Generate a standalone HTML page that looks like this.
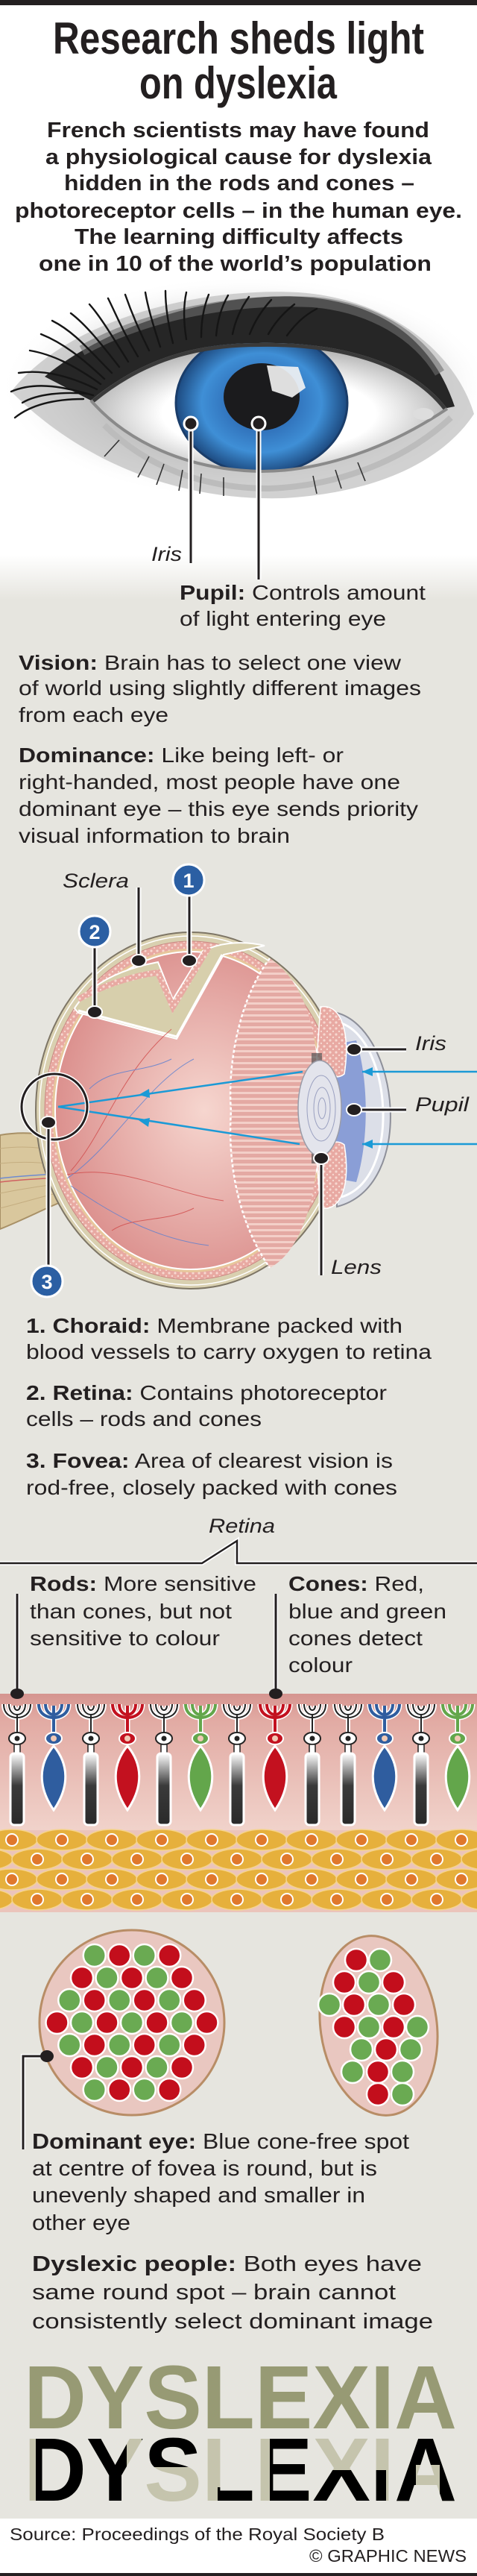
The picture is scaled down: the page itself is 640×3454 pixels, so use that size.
<!DOCTYPE html>
<html><head><meta charset="utf-8">
<style>
html,body{margin:0;padding:0;background:#fff;}
svg{display:block;}
text{font-family:"Liberation Sans",sans-serif;fill:#231f20;}
.b{font-weight:bold;}
.i{font-style:italic;}
</style></head><body>
<svg width="640" height="3454" viewBox="0 0 640 3454" xmlns="http://www.w3.org/2000/svg">
<defs>
<linearGradient id="bgfade" x1="0" y1="0" x2="0" y2="1">
<stop offset="0" stop-color="#ffffff"/><stop offset="1" stop-color="#e6e5df"/></linearGradient>
<radialGradient id="irisG" cx="0.5" cy="0.5" r="0.5">
<stop offset="0.35" stop-color="#2f6fb8"/><stop offset="0.7" stop-color="#3f8fd6"/><stop offset="1" stop-color="#1d4a80"/></radialGradient>
<radialGradient id="scleraG" cx="0.5" cy="0.55" r="0.6">
<stop offset="0.5" stop-color="#ffffff"/><stop offset="1" stop-color="#9a9a9a"/></radialGradient>
<radialGradient id="shadowG" cx="0.5" cy="0.5" r="0.5">
<stop offset="0.6" stop-color="#9a9a9a"/><stop offset="1" stop-color="#ffffff" stop-opacity="0"/></radialGradient>
<radialGradient id="vitG" cx="0.55" cy="0.5" r="0.6">
<stop offset="0" stop-color="#f6d6cf"/><stop offset="1" stop-color="#d98a88"/></radialGradient>
<linearGradient id="retG" x1="0" y1="0" x2="0" y2="1">
<stop offset="0" stop-color="#d59590"/><stop offset="0.2" stop-color="#e2aba4"/><stop offset="1" stop-color="#f1d3cb"/></linearGradient>
<linearGradient id="rodG" x1="0" y1="0" x2="0" y2="1">
<stop offset="0" stop-color="#ffffff"/><stop offset="0.45" stop-color="#3a3a3a"/><stop offset="1" stop-color="#2a2a2a"/></linearGradient>
<pattern id="dots" width="8" height="8" patternUnits="userSpaceOnUse">
<rect width="8" height="8" fill="#e8a9a2"/><circle cx="3" cy="3" r="1.6" fill="#f7d8d0"/><circle cx="7" cy="7" r="1.2" fill="#f7d8d0"/></pattern>
<pattern id="ribs" width="8" height="8" patternUnits="userSpaceOnUse">
<rect width="8" height="8" fill="#e4a9a3"/><rect y="0" width="8" height="3" fill="#f3cfc8"/></pattern>
<g id="rod">
<path d="M-18,0 C-18,14 -8,18 0,18 C8,18 18,14 18,0 M-11,0 C-11,10 -5,14 0,14 C5,14 11,10 11,0 M-4,2 C-4,10 4,10 4,2 M0,14 L0,40" fill="none" stroke="#fff" stroke-width="6"/>
<path d="M-18,0 C-18,14 -8,18 0,18 C8,18 18,14 18,0 M-11,0 C-11,10 -5,14 0,14 C5,14 11,10 11,0 M-4,2 C-4,10 4,10 4,2 M0,14 L0,40" fill="none" stroke="#222" stroke-width="2"/>
<ellipse cx="0" cy="46" rx="11" ry="8" fill="#fff" stroke="#222" stroke-width="2"/>
<circle cx="0" cy="46" r="3.5" fill="#222"/>
<rect x="-4" y="54" width="8" height="14" fill="#fff" stroke="#222" stroke-width="1.5"/>
<rect x="-9" y="66" width="18" height="96" rx="5" fill="url(#rodG)" stroke="#fff" stroke-width="3"/>
</g>
<g id="cone">
<path d="M-20,0 C-20,14 -8,18 0,18 C8,18 20,14 20,0 M-11,0 C-11,10 -5,14 0,14 C5,14 11,10 11,0 M0,2 L0,40" fill="none" stroke="#fff" stroke-width="7"/>
<path d="M-20,0 C-20,14 -8,18 0,18 C8,18 20,14 20,0 M-11,0 C-11,10 -5,14 0,14 C5,14 11,10 11,0 M0,2 L0,40" fill="none" stroke="currentColor" stroke-width="4"/>
<ellipse cx="0" cy="46" rx="11" ry="8" fill="currentColor" stroke="#fff" stroke-width="2"/>
<circle cx="0" cy="46" r="4" fill="#f1c9b5"/>
<path d="M0,56 C20,80 22,110 0,142 C-22,110 -20,80 0,56 Z" fill="currentColor" stroke="#fff" stroke-width="3"/>
</g>
<g id="ycell"><ellipse rx="34" ry="14" fill="#e6b03c" stroke="#f5d48c" stroke-width="1.5"/><circle r="8" fill="#e0782c" stroke="#fff" stroke-width="2"/></g>
<clipPath id="scleraClip"><path d="M122,537 C200,472 280,460 347,460 C450,458 550,482 600,548 C520,602 430,632 350,632 C250,630 170,592 122,537 Z"/></clipPath>
<clipPath id="blk1"><rect x="48" y="3260" width="122" height="100"/><rect x="190" y="3260" width="75" height="48"/><rect x="292" y="3335" width="48" height="25"/><rect x="362" y="3260" width="52" height="100"/><rect x="418" y="3312" width="100" height="48"/><rect x="528" y="3260" width="90" height="45"/><rect x="528" y="3305" width="30" height="55"/><rect x="590" y="3305" width="30" height="55"/></clipPath>
</defs>

<!-- backgrounds -->
<rect width="640" height="3454" fill="#e6e5df"/>
<rect width="640" height="745" fill="#fff"/>
<rect y="744" width="640" height="60" fill="url(#bgfade)"/>
<rect width="640" height="7" fill="#231f20"/>

<!-- title -->
<text class="b" x="71" y="72" font-size="60" textLength="498" lengthAdjust="spacingAndGlyphs">Research sheds light</text>
<text class="b" x="187" y="132" font-size="60" textLength="265" lengthAdjust="spacingAndGlyphs">on dyslexia</text>
<g class="b" font-size="29">
<text class="b" x="63" y="184" textLength="513" lengthAdjust="spacingAndGlyphs">French scientists may have found</text>
<text class="b" x="61" y="220" textLength="518" lengthAdjust="spacingAndGlyphs">a physiological cause for dyslexia</text>
<text class="b" x="86" y="255" textLength="470" lengthAdjust="spacingAndGlyphs">hidden in the rods and cones –</text>
<text class="b" x="20" y="292" textLength="600" lengthAdjust="spacingAndGlyphs">photoreceptor cells – in the human eye.</text>
<text class="b" x="100" y="327" textLength="441" lengthAdjust="spacingAndGlyphs">The learning difficulty affects</text>
<text class="b" x="52" y="363" textLength="527" lengthAdjust="spacingAndGlyphs">one in 10 of the world’s population</text>
</g>

<!-- eye photo -->
<ellipse cx="330" cy="520" rx="330" ry="150" fill="url(#shadowG)" opacity="0.55"/>
<path d="M15,525 C90,430 260,385 400,392 C520,400 610,470 636,555 C600,610 520,660 380,668 C240,672 110,620 15,525 Z" fill="#bdbdbd" opacity="0.7"/>
<path d="M60,505 C150,430 300,392 405,398 C510,405 580,455 610,545 L595,548 C545,485 455,458 347,460 C240,462 165,500 122,537 Z" fill="#262626"/>
<path d="M110,470 C200,420 320,400 420,405 C500,412 560,450 590,500" fill="none" stroke="#6e6e6e" stroke-width="14" opacity="0.6"/>
<g stroke="#151515" stroke-width="2.4" fill="none" stroke-linecap="round">
<path d="M125,530 C90,520 50,510 15,525"/><path d="M130,522 C95,505 60,495 25,500"/><path d="M135,515 C100,490 70,475 40,470"/>
<path d="M140,508 C110,480 85,460 55,448"/><path d="M150,500 C120,470 100,445 70,430"/><path d="M160,492 C135,460 115,435 95,420"/>
<path d="M172,485 C150,450 135,425 120,408"/><path d="M185,478 C165,445 155,420 145,400"/><path d="M200,470 C185,440 175,415 168,395"/>
<path d="M215,465 C205,435 198,410 195,392"/><path d="M232,460 C225,432 222,410 222,390"/><path d="M250,455 C246,430 246,410 250,392"/>
<path d="M270,452 C270,428 274,410 280,395"/><path d="M290,450 C292,428 298,410 306,396"/><path d="M312,448 C316,428 324,412 334,398"/>
<path d="M335,448 C342,430 352,415 364,402"/><path d="M360,448 C370,430 382,418 395,408"/><path d="M385,450 C398,432 410,422 425,414"/>
<path d="M112,535 C80,535 45,540 20,560"/><path d="M118,528 C85,525 50,528 30,540"/>
</g>
<path d="M122,537 C200,472 280,460 347,460 C450,458 550,482 600,548 C520,602 430,632 350,632 C250,630 170,592 122,537 Z" fill="url(#scleraG)"/>
<g clip-path="url(#scleraClip)">
<ellipse cx="351" cy="540" rx="115" ry="95" fill="url(#irisG)"/>
<ellipse cx="351" cy="540" rx="115" ry="95" fill="none" stroke="#1a3d6a" stroke-width="3"/>
<ellipse cx="351" cy="532" rx="51" ry="45" fill="#1b1b1d"/>
<path d="M358,490 L400,492 L410,520 L392,533 L365,524 Z" fill="#f4f4f4" opacity="0.9"/>
<path d="M122,537 C200,472 280,460 347,460 C450,458 550,482 600,548" fill="none" stroke="#3a3a3a" stroke-width="10"/>
</g>
<path d="M122,537 C170,592 250,630 350,632 C430,632 520,602 600,548" fill="none" stroke="#8a8a8a" stroke-width="4"/>
<path d="M140,570 C200,630 280,655 360,655 C450,652 540,620 605,560" fill="none" stroke="#bcbcbc" stroke-width="8"/>
<g stroke="#333" stroke-width="1.6" fill="none">
<path d="M200,612 L185,640"/><path d="M220,622 L210,650"/><path d="M245,630 L240,658"/><path d="M270,635 L268,662"/><path d="M300,640 L300,665"/><path d="M420,638 L425,662"/><path d="M450,630 L458,655"/><path d="M480,620 L490,645"/><path d="M160,590 L140,612"/>
</g>
<ellipse cx="568" cy="555" rx="14" ry="8" fill="#ddd"/>
<!-- eye pointers -->
<g>
<line x1="256" y1="568" x2="256" y2="755" stroke="#fff" stroke-width="7"/>
<line x1="256" y1="568" x2="256" y2="755" stroke="#231f20" stroke-width="3"/>
<circle cx="256" cy="568" r="9" fill="#231f20" stroke="#fff" stroke-width="3"/>
<line x1="347" y1="568" x2="347" y2="777" stroke="#fff" stroke-width="7"/>
<line x1="347" y1="568" x2="347" y2="777" stroke="#231f20" stroke-width="3"/>
<circle cx="347" cy="568" r="9" fill="#231f20" stroke="#fff" stroke-width="3"/>
</g>
<text class="i" x="203" y="752" font-size="27" textLength="41" lengthAdjust="spacingAndGlyphs">Iris</text>
<text x="241" y="804" font-size="28" textLength="330" lengthAdjust="spacingAndGlyphs"><tspan class="b" font-weight="bold">Pupil:</tspan> Controls amount</text>
<text x="241" y="839" font-size="28" textLength="277" lengthAdjust="spacingAndGlyphs">of light entering eye</text>

<!-- vision / dominance -->
<g font-size="28">
<text x="25" y="898" textLength="513" lengthAdjust="spacingAndGlyphs"><tspan font-weight="bold">Vision:</tspan> Brain has to select one view</text>
<text x="25" y="932" textLength="540" lengthAdjust="spacingAndGlyphs">of world using slightly different images</text>
<text x="25" y="968" textLength="201" lengthAdjust="spacingAndGlyphs">from each eye</text>
<text x="25" y="1022" textLength="436" lengthAdjust="spacingAndGlyphs"><tspan font-weight="bold">Dominance:</tspan> Like being left- or</text>
<text x="25" y="1058" textLength="512" lengthAdjust="spacingAndGlyphs">right-handed, most people have one</text>
<text x="25" y="1094" textLength="536" lengthAdjust="spacingAndGlyphs">dominant eye – this eye sends priority</text>
<text x="25" y="1130" textLength="364" lengthAdjust="spacingAndGlyphs">visual information to brain</text>
</g>

<!-- eye cross-section -->
<path d="M0,1522 C40,1515 75,1522 100,1535 L100,1605 C70,1615 40,1632 0,1648 Z" fill="#d9c79d" stroke="#a89066" stroke-width="2"/>
<g stroke="#c4ad80" stroke-width="1" fill="none"><path d="M0,1540 C40,1535 70,1540 100,1550"/><path d="M0,1560 C40,1556 70,1560 100,1565"/><path d="M0,1600 C40,1592 70,1588 100,1585"/><path d="M0,1620 C40,1610 70,1600 100,1595"/></g>
<path d="M0,1580 C40,1575 70,1575 100,1572" stroke="#6f8bd0" stroke-width="1.5" fill="none"/>
<path d="M0,1585 C40,1580 70,1580 100,1578" stroke="#d06060" stroke-width="1.5" fill="none"/>
<ellipse cx="256" cy="1489" rx="208" ry="239" fill="#d9d0b0" stroke="#7d7565" stroke-width="2"/>
<ellipse cx="256" cy="1489" rx="203" ry="234" fill="none" stroke="#fff" stroke-width="1.5"/>
<ellipse cx="256" cy="1489" rx="196" ry="227" fill="url(#dots)" stroke="#c98a84" stroke-width="1"/>
<ellipse cx="256" cy="1489" rx="186" ry="217" fill="#e7c79c"/>
<ellipse cx="256" cy="1489" rx="182" ry="213" fill="url(#vitG)" stroke="#fff" stroke-width="2"/>
<!-- cutaway -->
<path d="M100,1352 C120,1320 160,1300 212,1290 L232,1340 L272,1275 C300,1262 330,1262 355,1268 L300,1280 L237,1393 L105,1358 Z" fill="#d7cfac" stroke="#fff" stroke-width="2"/>
<path d="M105,1340 C140,1320 180,1308 212,1304 L232,1350 L280,1270" fill="none" stroke="url(#dots)" stroke-width="8"/>
<path d="M105,1355 L237,1390 L298,1280" fill="none" stroke="#fff" stroke-width="3"/>
<!-- vessels -->
<g fill="none" stroke-width="1" opacity="0.8">
<path d="M90,1580 C150,1540 200,1450 260,1420" stroke="#5b7fd0"/><path d="M90,1575 C160,1560 230,1600 300,1610" stroke="#d04a4a"/>
<path d="M95,1590 C140,1620 200,1660 280,1670" stroke="#5b7fd0"/><path d="M95,1570 C140,1520 160,1440 230,1380" stroke="#d04a4a"/>
<path d="M120,1460 C150,1430 190,1440 230,1420" stroke="#5b7fd0"/><path d="M150,1650 C180,1630 220,1640 260,1620" stroke="#d04a4a"/>
</g>
<!-- ciliary fan -->
<path d="M362,1285 C320,1340 305,1430 310,1490 C305,1560 320,1640 362,1700 C400,1680 420,1620 425,1560 L425,1420 C420,1360 400,1310 362,1285 Z" fill="url(#ribs)"/>
<path d="M362,1285 C320,1340 305,1430 310,1490 C305,1560 320,1640 362,1700" fill="none" stroke="#fff" stroke-width="2.5" stroke-dasharray="4 3"/>
<!-- iris/cornea -->
<path d="M452,1358 C535,1380 560,1590 452,1618 Z" fill="#dcdfe8" stroke="#8d8f99" stroke-width="2"/>
<path d="M458,1372 C525,1395 540,1580 458,1605" fill="none" stroke="#fff" stroke-width="3"/>
<path d="M450,1400 L478,1395 C495,1450 495,1530 478,1585 L450,1580 Z" fill="#8a9ed6"/>
<path d="M430,1350 C460,1345 470,1390 462,1440 C450,1450 430,1440 425,1420 Z" fill="url(#dots)" stroke="#fff" stroke-width="1.5"/>
<path d="M430,1620 C460,1625 470,1585 462,1535 C450,1525 430,1535 425,1555 Z" fill="url(#dots)" stroke="#fff" stroke-width="1.5"/>
<rect x="418" y="1412" width="14" height="20" fill="#555" opacity="0.7"/>
<rect x="418" y="1540" width="14" height="20" fill="#555" opacity="0.7"/>
<ellipse cx="429" cy="1486" rx="29" ry="64" fill="#e3e4ec" stroke="#9a9ca8" stroke-width="1.5"/>
<ellipse cx="431" cy="1486" rx="19" ry="44" fill="none" stroke="#9aa0c0" stroke-width="1"/>
<ellipse cx="432" cy="1486" rx="11" ry="28" fill="none" stroke="#9aa0c0" stroke-width="1"/>
<ellipse cx="432" cy="1486" rx="5" ry="14" fill="none" stroke="#9aa0c0" stroke-width="1"/>
<!-- rays -->
<g stroke="#1b9ad6" stroke-width="2.5" fill="none">
<line x1="640" y1="1437" x2="486" y2="1437"/><line x1="640" y1="1534" x2="486" y2="1534"/>
<line x1="406" y1="1437" x2="78" y2="1484"/><line x1="402" y1="1534" x2="78" y2="1484"/>
</g>
<g fill="#1b9ad6">
<path d="M486,1437 l14,-6 l0,12 z"/><path d="M486,1534 l14,-6 l0,12 z"/>
<path d="M186,1468 l14,-8 l1,12 z"/><path d="M186,1502 l15,-3 l-2,12 z"/>
</g>
<!-- fovea ring -->
<circle cx="73" cy="1484" r="44" fill="none" stroke="#fff" stroke-width="6"/>
<circle cx="73" cy="1484" r="44" fill="none" stroke="#231f20" stroke-width="3"/>
<!-- pointers -->
<g>
<g stroke="#fff" stroke-width="7">
<line x1="186" y1="1190" x2="186" y2="1287"/><line x1="254" y1="1200" x2="254" y2="1287"/><line x1="127" y1="1268" x2="127" y2="1356"/><line x1="65" y1="1505" x2="65" y2="1700"/>
<line x1="475" y1="1407" x2="545" y2="1407"/><line x1="475" y1="1488" x2="545" y2="1488"/><line x1="431" y1="1553" x2="431" y2="1710"/></g>
<g stroke="#231f20" stroke-width="3">
<line x1="186" y1="1190" x2="186" y2="1287"/><line x1="254" y1="1200" x2="254" y2="1287"/><line x1="127" y1="1268" x2="127" y2="1356"/><line x1="65" y1="1505" x2="65" y2="1700"/>
<line x1="475" y1="1407" x2="545" y2="1407"/><line x1="475" y1="1488" x2="545" y2="1488"/><line x1="431" y1="1553" x2="431" y2="1710"/></g>
<g fill="#231f20" stroke="#fff" stroke-width="2">
<ellipse cx="186" cy="1288" rx="10" ry="8"/><ellipse cx="254" cy="1288" rx="10" ry="8"/><ellipse cx="127" cy="1357" rx="10" ry="8"/><ellipse cx="65" cy="1505" rx="10" ry="8"/>
<ellipse cx="475" cy="1407" rx="10" ry="8"/><ellipse cx="475" cy="1488" rx="10" ry="8"/><ellipse cx="431" cy="1553" rx="10" ry="8"/></g>
<g fill="#2b5fa3" stroke="#fff" stroke-width="3">
<circle cx="253" cy="1180" r="21"/><circle cx="127" cy="1249" r="21"/><circle cx="63" cy="1718" r="21"/></g>
<g font-size="27" font-weight="bold" text-anchor="middle">
<text x="253" y="1190" style="fill:#fff">1</text><text x="127" y="1259" style="fill:#fff">2</text><text x="63" y="1728" style="fill:#fff">3</text></g>
</g>
<text class="i" x="84" y="1190" font-size="27" textLength="89" lengthAdjust="spacingAndGlyphs">Sclera</text>
<text class="i" x="557" y="1408" font-size="27" textLength="42" lengthAdjust="spacingAndGlyphs">Iris</text>
<text class="i" x="557" y="1490" font-size="27" textLength="72" lengthAdjust="spacingAndGlyphs">Pupil</text>
<text class="i" x="444" y="1708" font-size="27" textLength="68" lengthAdjust="spacingAndGlyphs">Lens</text>

<!-- numbered notes -->
<g font-size="28">
<text x="35" y="1787" textLength="505" lengthAdjust="spacingAndGlyphs"><tspan font-weight="bold">1. Choraid:</tspan> Membrane packed with</text>
<text x="35" y="1822" textLength="544" lengthAdjust="spacingAndGlyphs">blood vessels to carry oxygen to retina</text>
<text x="35" y="1877" textLength="484" lengthAdjust="spacingAndGlyphs"><tspan font-weight="bold">2. Retina:</tspan> Contains photoreceptor</text>
<text x="35" y="1912" textLength="316" lengthAdjust="spacingAndGlyphs">cells – rods and cones</text>
<text x="35" y="1968" textLength="492" lengthAdjust="spacingAndGlyphs"><tspan font-weight="bold">3. Fovea:</tspan> Area of clearest vision is</text>
<text x="35" y="2004" textLength="498" lengthAdjust="spacingAndGlyphs">rod-free, closely packed with cones</text>
</g>
<text class="i" x="280" y="2055" font-size="27" textLength="89" lengthAdjust="spacingAndGlyphs">Retina</text>
<path d="M0,2096 L271,2096 L318,2066 L318,2096 L640,2096" fill="none" stroke="#fff" stroke-width="6"/>
<path d="M0,2096 L271,2096 L318,2066 L318,2096 L640,2096" fill="none" stroke="#231f20" stroke-width="2.5"/>
<g font-size="28">
<text x="40" y="2133" textLength="304" lengthAdjust="spacingAndGlyphs"><tspan font-weight="bold">Rods:</tspan> More sensitive</text>
<text x="40" y="2170" textLength="271" lengthAdjust="spacingAndGlyphs">than cones, but not</text>
<text x="40" y="2206" textLength="255" lengthAdjust="spacingAndGlyphs">sensitive to colour</text>
<text x="387" y="2133" textLength="182" lengthAdjust="spacingAndGlyphs"><tspan font-weight="bold">Cones:</tspan> Red,</text>
<text x="387" y="2170" textLength="212" lengthAdjust="spacingAndGlyphs">blue and green</text>
<text x="387" y="2206" textLength="180" lengthAdjust="spacingAndGlyphs">cones detect</text>
<text x="387" y="2242" textLength="86" lengthAdjust="spacingAndGlyphs">colour</text>
</g>

<!-- retina band -->
<rect y="2271" width="640" height="185" fill="url(#retG)"/>
<rect y="2454" width="640" height="110" fill="#ebc4bb"/>
<g>
<use href="#ycell" x="16" y="2467"/><use href="#ycell" x="83" y="2467"/><use href="#ycell" x="150" y="2467"/><use href="#ycell" x="217" y="2467"/><use href="#ycell" x="284" y="2467"/><use href="#ycell" x="351" y="2467"/><use href="#ycell" x="418" y="2467"/><use href="#ycell" x="485" y="2467"/><use href="#ycell" x="552" y="2467"/><use href="#ycell" x="619" y="2467"/>
<use href="#ycell" x="-17" y="2493"/><use href="#ycell" x="50" y="2493"/><use href="#ycell" x="117" y="2493"/><use href="#ycell" x="184" y="2493"/><use href="#ycell" x="251" y="2493"/><use href="#ycell" x="318" y="2493"/><use href="#ycell" x="385" y="2493"/><use href="#ycell" x="452" y="2493"/><use href="#ycell" x="519" y="2493"/><use href="#ycell" x="586" y="2493"/><use href="#ycell" x="653" y="2493"/>
<use href="#ycell" x="16" y="2520"/><use href="#ycell" x="83" y="2520"/><use href="#ycell" x="150" y="2520"/><use href="#ycell" x="217" y="2520"/><use href="#ycell" x="284" y="2520"/><use href="#ycell" x="351" y="2520"/><use href="#ycell" x="418" y="2520"/><use href="#ycell" x="485" y="2520"/><use href="#ycell" x="552" y="2520"/><use href="#ycell" x="619" y="2520"/>
<use href="#ycell" x="-17" y="2547"/><use href="#ycell" x="50" y="2547"/><use href="#ycell" x="117" y="2547"/><use href="#ycell" x="184" y="2547"/><use href="#ycell" x="251" y="2547"/><use href="#ycell" x="318" y="2547"/><use href="#ycell" x="385" y="2547"/><use href="#ycell" x="452" y="2547"/><use href="#ycell" x="519" y="2547"/><use href="#ycell" x="586" y="2547"/><use href="#ycell" x="653" y="2547"/>
</g>
<g>
<use href="#rod" x="23" y="2285"/>
<use href="#cone" x="72" y="2285" style="color:#2f5d9f"/>
<use href="#rod" x="122" y="2285"/>
<use href="#cone" x="171" y="2285" style="color:#c3111f"/>
<use href="#rod" x="220" y="2285"/>
<use href="#cone" x="269" y="2285" style="color:#63a64b"/>
<use href="#rod" x="318" y="2285"/>
<use href="#cone" x="369" y="2285" style="color:#c3111f"/>
<use href="#rod" x="419" y="2285"/>
<use href="#rod" x="467" y="2285"/>
<use href="#cone" x="516" y="2285" style="color:#2f5d9f"/>
<use href="#rod" x="565" y="2285"/>
<use href="#cone" x="614" y="2285" style="color:#63a64b"/>
</g>
<g stroke="#fff" stroke-width="6"><line x1="23" y1="2137" x2="23" y2="2268"/><line x1="370" y1="2137" x2="370" y2="2268"/></g>
<g stroke="#231f20" stroke-width="3"><line x1="23" y1="2137" x2="23" y2="2268"/><line x1="370" y1="2137" x2="370" y2="2268"/></g>
<ellipse cx="23" cy="2271" rx="9" ry="7" fill="#231f20"/><ellipse cx="370" cy="2271" rx="9" ry="7" fill="#231f20"/>

<!-- foveas -->
<circle cx="177" cy="2712" r="124" fill="#e9c7c0" stroke="#b88d66" stroke-width="3"/>
<g stroke="#fff" stroke-width="2.5">
<g fill="#6aaa52"><circle cx="126.75" cy="2622" r="15"/><circle cx="193.75" cy="2622" r="15"/>
<circle cx="143.5" cy="2652" r="15"/><circle cx="210.5" cy="2652" r="15"/>
<circle cx="93.25" cy="2682" r="15"/><circle cx="160.25" cy="2682" r="15"/><circle cx="227.25" cy="2682" r="15"/>
<circle cx="110" cy="2712" r="15"/><circle cx="177" cy="2712" r="15"/><circle cx="244" cy="2712" r="15"/>
<circle cx="93.25" cy="2742" r="15"/><circle cx="160.25" cy="2742" r="15"/><circle cx="227.25" cy="2742" r="15"/>
<circle cx="143.5" cy="2772" r="15"/><circle cx="210.5" cy="2772" r="15"/>
<circle cx="126.75" cy="2802" r="15"/><circle cx="193.75" cy="2802" r="15"/></g>
<g fill="#c30e1c"><circle cx="160.25" cy="2622" r="15"/><circle cx="227.25" cy="2622" r="15"/>
<circle cx="110" cy="2652" r="15"/><circle cx="177" cy="2652" r="15"/><circle cx="244" cy="2652" r="15"/>
<circle cx="126.75" cy="2682" r="15"/><circle cx="193.75" cy="2682" r="15"/><circle cx="260.75" cy="2682" r="15"/>
<circle cx="76.5" cy="2712" r="15"/><circle cx="143.5" cy="2712" r="15"/><circle cx="210.5" cy="2712" r="15"/><circle cx="277.5" cy="2712" r="15"/>
<circle cx="126.75" cy="2742" r="15"/><circle cx="193.75" cy="2742" r="15"/><circle cx="260.75" cy="2742" r="15"/>
<circle cx="110" cy="2772" r="15"/><circle cx="177" cy="2772" r="15"/><circle cx="244" cy="2772" r="15"/>
<circle cx="160.25" cy="2802" r="15"/><circle cx="227.25" cy="2802" r="15"/></g>
</g>
<ellipse cx="508" cy="2716" rx="78" ry="121" transform="rotate(-8 508 2716)" fill="#e9c7c0" stroke="#b88d66" stroke-width="3"/>
<g stroke="#fff" stroke-width="2.5">
<g fill="#c30e1c"><circle cx="478" cy="2628" r="15"/><circle cx="462" cy="2658" r="15"/><circle cx="528" cy="2658" r="15"/><circle cx="475" cy="2688" r="15"/><circle cx="542" cy="2688" r="15"/><circle cx="462" cy="2718" r="15"/><circle cx="528" cy="2718" r="15"/><circle cx="518" cy="2748" r="15"/><circle cx="507" cy="2778" r="15"/><circle cx="507" cy="2808" r="15"/></g>
<g fill="#6aaa52"><circle cx="510" cy="2628" r="15"/><circle cx="495" cy="2658" r="15"/><circle cx="442" cy="2688" r="15"/><circle cx="508" cy="2688" r="15"/><circle cx="495" cy="2718" r="15"/><circle cx="560" cy="2718" r="15"/><circle cx="485" cy="2748" r="15"/><circle cx="551" cy="2748" r="15"/><circle cx="540" cy="2778" r="15"/><circle cx="473" cy="2778" r="15"/><circle cx="540" cy="2808" r="15"/></g>
</g>
<path d="M63,2757 L31,2757 L31,2882" fill="none" stroke="#fff" stroke-width="6"/>
<path d="M63,2757 L31,2757 L31,2882" fill="none" stroke="#231f20" stroke-width="3"/>
<ellipse cx="63" cy="2757" rx="9" ry="8" fill="#231f20"/>

<g font-size="29">
<text x="43" y="2881" textLength="506" lengthAdjust="spacingAndGlyphs"><tspan font-weight="bold">Dominant eye:</tspan> Blue cone-free spot</text>
<text x="43" y="2917" textLength="463" lengthAdjust="spacingAndGlyphs">at centre of fovea is round, but is</text>
<text x="43" y="2953" textLength="447" lengthAdjust="spacingAndGlyphs">unevenly shaped and smaller in</text>
<text x="43" y="2990" textLength="132" lengthAdjust="spacingAndGlyphs">other eye</text>
<text x="43" y="3045" textLength="523" lengthAdjust="spacingAndGlyphs"><tspan font-weight="bold">Dyslexic people:</tspan> Both eyes have</text>
<text x="43" y="3083" textLength="488" lengthAdjust="spacingAndGlyphs">same round spot – brain cannot</text>
<text x="43" y="3122" textLength="538" lengthAdjust="spacingAndGlyphs">consistently select dominant image</text>
</g>

<!-- DYSLEXIA -->
<text x="32" y="3256" font-size="121" font-weight="bold" textLength="581" lengthAdjust="spacingAndGlyphs" style="fill:#979a74">DYSLEXIA</text>
<text x="32" y="3353" font-size="121" font-weight="bold" textLength="581" lengthAdjust="spacingAndGlyphs" style="fill:#c5c4ad">DYSLEXIA</text>
<text x="32" y="3353" font-size="121" font-weight="bold" textLength="581" lengthAdjust="spacingAndGlyphs" clip-path="url(#blk1)" style="fill:#000">DYSLEXIA</text>

<!-- footer -->
<rect y="3377" width="640" height="77" fill="#fff"/>
<text x="13" y="3406" font-size="23" textLength="503" lengthAdjust="spacingAndGlyphs">Source: Proceedings of the Royal Society B</text>
<text x="415" y="3435" font-size="23" textLength="211" lengthAdjust="spacingAndGlyphs">© GRAPHIC NEWS</text>
<rect y="3450" width="640" height="4" fill="#231f20"/>
</svg>
</body></html>
